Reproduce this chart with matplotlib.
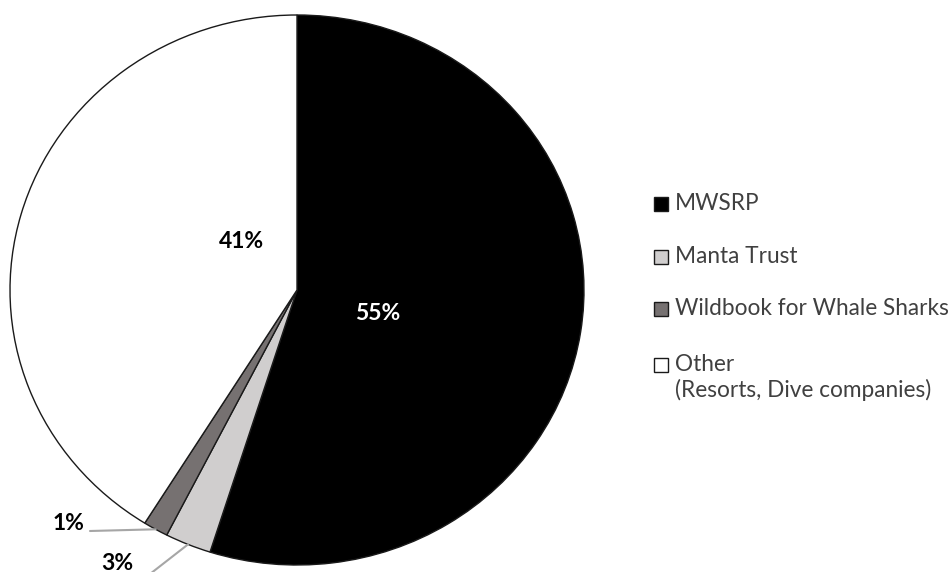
import matplotlib.pyplot as plt
import matplotlib.patches as mpatches
import numpy as np

plt.rcParams['font.family'] = ['Lato', 'DejaVu Sans']

sources = ['MWSRP', 'Manta Trust', 'Wildbook for Whale Sharks',
           'Other\n(Resorts, Dive companies)']
shares = [54.9, 2.6, 1.4, 41.1]
colors = ['#000000', '#d0cece', '#767171', '#ffffff']

W, H = 952, 572
fig = plt.figure(figsize=(W / 100, H / 100), dpi=100)

# pie axes, sized in pixels (slightly squashed like the original)
cx, cy, rx, ry = 297, 290, 287, 275
ax = fig.add_axes([(cx - rx) / W, (H - cy - ry) / H, 2 * rx / W, 2 * ry / H])
wedges, _ = ax.pie(shares, colors=colors, startangle=90, counterclock=False,
                   radius=1, wedgeprops=dict(edgecolor='#1a1a1a', linewidth=1))
ax.set_xlim(-1, 1)
ax.set_ylim(-1, 1)
ax.set_aspect('auto')
ax.axis('off')


def px(x, y):
    # figure pixel -> pie data coords
    return (x - cx) / rx, -(y - cy) / ry


def pct(v):
    return f'{v:.0f}%'


# inside labels
ax.text(*px(378, 313), pct(shares[0]), color='white', fontsize=16.5,
        fontweight='bold', ha='center', va='center')
ax.text(*px(241, 242), pct(shares[3]), color='black', fontsize=16.5,
        fontweight='bold', ha='center', va='center')

# outside labels with leader lines (wedge index -> text pos, line end)
outside = {2: ((69, 523), (90, 531)), 1: ((117, 563), (150, 574))}
for i, (txt_pos, line_end) in outside.items():
    w = wedges[i]
    mid = np.deg2rad((w.theta1 + w.theta2) / 2)
    edge = (np.cos(mid), np.sin(mid))
    ax.annotate('', xy=edge, xytext=px(*line_end), annotation_clip=False,
                arrowprops=dict(arrowstyle='-', color='#a6a6a6', lw=1.5,
                                shrinkA=0, shrinkB=0))
    ax.text(*px(*txt_pos), pct(shares[i]), color='black', fontsize=16.5,
            fontweight='bold', ha='center', va='center')

# legend drawn by hand in pixel coords
lax = fig.add_axes([0, 0, 1, 1])
lax.set_xlim(0, W)
lax.set_ylim(H, 0)
lax.axis('off')
leg_y = [204, 257, 309, 365]
for name, col, y in zip(sources, colors, leg_y):
    lax.add_patch(mpatches.Rectangle((654, y - 7), 14, 14, facecolor=col,
                                     edgecolor='#1a1a1a', lw=1))
    lax.text(675, y - 11, name, color='#404040', fontsize=16.3,
             ha='left', va='top', linespacing=1.2)

fig.savefig('out.png', dpi=100)
